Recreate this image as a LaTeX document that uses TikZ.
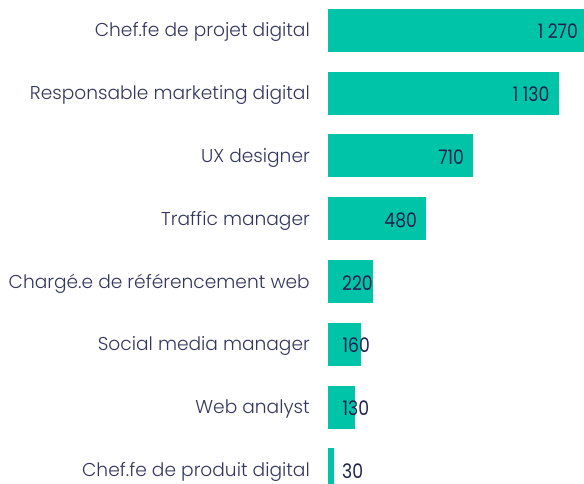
\documentclass[tikz,border=0pt]{standalone}
\usepackage{fontspec}
\setmainfont{Poppins}
\newfontfamily\lightfont{Poppins Light}
\newfontfamily\valfont{Poppins}[FakeStretch=0.86]
\definecolor{barc}{HTML}{00C4A7}
\definecolor{catc}{HTML}{33365F}
\definecolor{valc}{HTML}{1F2150}
\begin{document}
\begin{tikzpicture}[x=1bp,y=-1bp,
  bar/.style={fill=barc,draw=none},
  cat/.style={anchor=base east,inner sep=0pt,text=catc,font=\lightfont\fontsize{18.6bp}{20bp}\selectfont},
  val/.style={inner sep=0pt,text=valc,font=\valfont\fontsize{20bp}{22bp}\selectfont}]
\useasboundingbox (0,0) rectangle (584,484);
\begin{scope}
\clip (0,0) rectangle (584,484);
\def\sc{0.2044}
\foreach \i/\v/\name in {1/1270/b1,2/1130/b2,3/710/b3,4/480/b4,5/220/b5,6/160/b6,7/130/b7,8/30/b8}{
  \pgfmathsetmacro\yc{30.5+62.75*(\i-1)}
  \pgfmathsetmacro\xe{328+\v*\sc}
  \path[bar] (328,\yc-21.5) rectangle (\xe,\yc+21.5);
  \coordinate (\name) at (\xe,\yc+8.5);
}
\end{scope}
\node[cat] (c1) at (310,37) {Chef.fe de projet digital};
\node[cat] (c2) at (310,99.75) {Responsable marketing digital};
\node[cat] (c3) at (310,162.5) {UX designer};
\node[cat] (c4) at (310,225.25) {Traffic manager};
\node[cat] (c5) at (310,288) {Chargé.e de référencement web};
\node[cat] (c6) at (310,350.75) {Social media manager};
\node[cat] (c7) at (310,413.5) {Web analyst};
\node[cat] (c8) at (310,476.25) {Chef.fe de produit digital};
\node[val,anchor=base east] (v1) at ([xshift=-9.5]b1) {1 270};
\node[val,anchor=base east] (v2) at ([xshift=-9.5]b2) {1 130};
\node[val,anchor=base east] (v3) at ([xshift=-9]b3) {710};
\node[val,anchor=base east] (v4) at ([xshift=-9]b4) {480};
\node[val,anchor=base west] (v5) at (342,290) {220};
\node[val,anchor=base west] (v6) at (342.5,352.75) {160};
\node[val,anchor=base west] (v7) at (342.5,415.5) {130};
\node[val,anchor=base west] (v8) at (342,478.25) {30};
\end{tikzpicture}
\end{document}
